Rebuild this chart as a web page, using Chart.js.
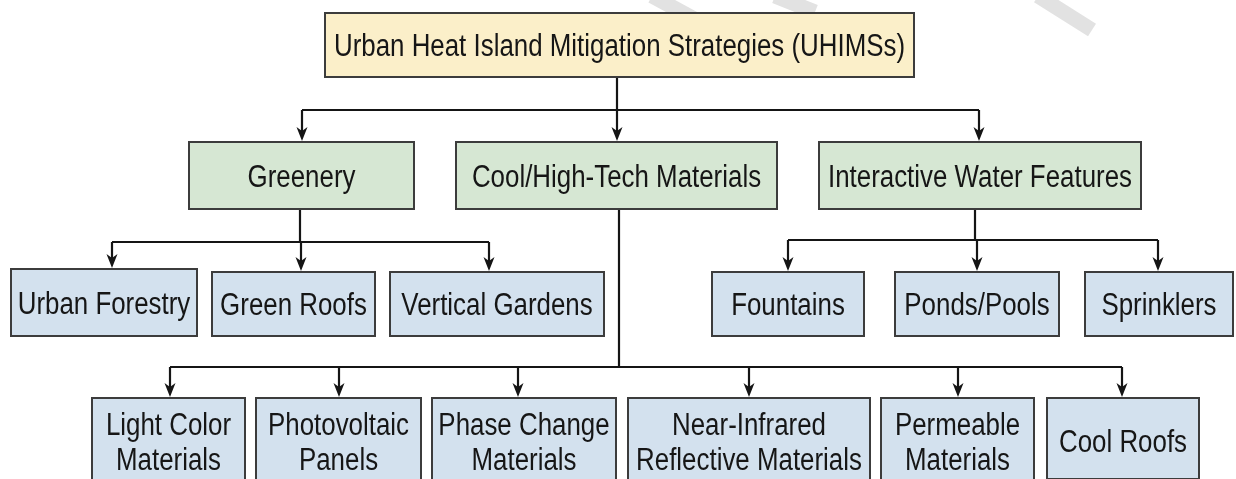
<!DOCTYPE html>
<html>
<head>
<meta charset="utf-8">
<script src="https://cdn.jsdelivr.net/npm/chart.js@4.4.1/dist/chart.umd.min.js"></script>
<style>
  html, body { margin: 0; padding: 0; background: #fff; }
  #wrap { width: 1236px; height: 479px; }
</style>
</head>
<body>
<div id="wrap"><canvas id="treeChart" width="1236" height="479"></canvas></div>
<script>
// node labels, "\n" splits a label on two lines
const nodeLabels = [
  'Urban Heat Island Mitigation Strategies (UHIMSs)',
  'Greenery', 'Cool/High-Tech Materials', 'Interactive Water Features',
  'Urban Forestry', 'Green Roofs', 'Vertical Gardens',
  'Fountains', 'Ponds/Pools', 'Sprinklers',
  'Light Color\nMaterials', 'Photovoltaic\nPanels', 'Phase Change\nMaterials',
  'Near-Infrared\nReflective Materials', 'Permeable\nMaterials', 'Cool Roofs'
];
const nodeLevel  = [0, 1, 1, 1, 2, 2, 2, 2, 2, 2, 3, 3, 3, 3, 3, 3];
const nodeParent = [-1, 0, 0, 0, 1, 1, 1, 3, 3, 3, 2, 2, 2, 2, 2, 2];

// box extents on the diagram axes (x 0..1236, y 0..479 from the top)
const boxLeft   = [325, 189, 456, 819, 11, 212, 390, 712, 895, 1085, 92, 256, 432, 628, 881, 1047];
const boxRight  = [914, 414, 777, 1141, 197, 375, 604, 864, 1059, 1233, 245, 421, 616, 870, 1034, 1199];
const boxTop    = [13, 142, 142, 142, 269, 272, 272, 272, 272, 272, 398, 398, 398, 398, 398, 398];
const boxBottom = [77, 209, 209, 209, 336, 336, 336, 336, 336, 336, 485, 485, 485, 485, 485, 479];

// x where the arrow enters each child box
const arrowX = [null, 302, 617, 979, 112, 301, 489, 788, 977, 1158, 170, 339, 518, 749, 958, 1122];

// connectors: parent node, x of its stem, y of the horizontal bus
const busParent = [0, 1, 2, 3];
const busStemX  = [617, 300, 619, 975];
const busY      = [110, 242, 367, 240];

// faint watermark strokes along the top edge (x1, y1, x2, y2)
const wmX1 = [652, 775, 1038];
const wmY1 = [-4, -4, -4];
const wmX2 = [700, 815, 1092];
const wmY2 = [22, 12, 30];

const levelFill = ['#fbefc9', '#d6e7d3', '#d3e1ee', '#d3e1ee'];

const treePlugin = {
  id: 'tree',
  beforeDatasetsDraw(chart) {
    const ctx = chart.ctx;
    const sx = chart.scales.x, sy = chart.scales.y;
    ctx.save();
    ctx.strokeStyle = '#e2e2e2';
    ctx.lineWidth = 15;
    for (let i = 0; i < wmX1.length; i++) {
      ctx.beginPath();
      ctx.moveTo(sx.getPixelForValue(wmX1[i]), sy.getPixelForValue(wmY1[i]));
      ctx.lineTo(sx.getPixelForValue(wmX2[i]), sy.getPixelForValue(wmY2[i]));
      ctx.stroke();
    }
    ctx.restore();
  },
  afterDatasetsDraw(chart) {
    const ctx = chart.ctx;
    const sx = chart.scales.x, sy = chart.scales.y;
    const px = v => sx.getPixelForValue(v);
    const py = v => sy.getPixelForValue(v);

    ctx.save();
    // connectors
    ctx.strokeStyle = '#151515';
    ctx.fillStyle = '#151515';
    ctx.lineWidth = 2.2;
    busParent.forEach((p, b) => {
      const kids = [];
      nodeParent.forEach((par, i) => { if (par === p) kids.push(i); });
      const xs = kids.map(k => arrowX[k]).concat([busStemX[b]]);
      const y = py(busY[b]);
      ctx.beginPath();
      ctx.moveTo(px(busStemX[b]), py(boxBottom[p]));
      ctx.lineTo(px(busStemX[b]), y);
      ctx.moveTo(px(Math.min(...xs)), y);
      ctx.lineTo(px(Math.max(...xs)), y);
      ctx.stroke();
      kids.forEach(k => {
        const x = px(arrowX[k]);
        const tip = py(boxTop[k]) - 1;
        ctx.beginPath();
        ctx.moveTo(x, y);
        ctx.lineTo(x, tip - 8);
        ctx.stroke();
        ctx.beginPath();
        ctx.moveTo(x, tip);
        ctx.lineTo(x - 5.5, tip - 14);
        ctx.lineTo(x, tip - 10);
        ctx.lineTo(x + 5.5, tip - 14);
        ctx.closePath();
        ctx.fill();
      });
    });

    // boxes and labels
    nodeLabels.forEach((label, i) => {
      const l = px(boxLeft[i]), r = px(boxRight[i]);
      const t = py(boxTop[i]), btm = py(boxBottom[i]);
      ctx.fillStyle = levelFill[nodeLevel[i]];
      ctx.fillRect(l, t, r - l, btm - t);
      ctx.strokeStyle = '#3c3c3c';
      ctx.lineWidth = 2;
      ctx.strokeRect(l, t, r - l, btm - t);

      const lines = label.split('\n');
      const cx = (l + r) / 2;
      const cy = lines.length > 1 ? py(441.5) : (i === 15 ? py(441) : (t + btm) / 2);
      ctx.fillStyle = '#161616';
      ctx.font = "31px 'Liberation Sans', Arial, sans-serif";
      ctx.textAlign = 'center';
      ctx.textBaseline = 'alphabetic';
      lines.forEach((line, j) => {
        const off = (j - (lines.length - 1) / 2) * 35;
        ctx.save();
        ctx.translate(cx, cy + off + 11);
        ctx.scale(0.835, 1);
        ctx.fillText(line, 0, 0);
        ctx.restore();
      });
    });
    ctx.restore();
  }
};

const ctx = document.getElementById('treeChart').getContext('2d');
new Chart(ctx, {
  type: 'scatter',
  data: {
    datasets: [{
      label: 'nodes',
      data: nodeLabels.map((n, i) => ({
        x: (boxLeft[i] + boxRight[i]) / 2,
        y: (boxTop[i] + boxBottom[i]) / 2
      })),
      pointRadius: 0
    }]
  },
  options: {
    responsive: false,
    animation: false,
    events: [],
    layout: { padding: 0 },
    scales: {
      x: { type: 'linear', min: 0, max: 1236, display: false },
      y: { type: 'linear', min: 0, max: 479, reverse: true, display: false }
    },
    plugins: {
      legend: { display: false },
      tooltip: { enabled: false },
      title: { display: false }
    }
  },
  plugins: [treePlugin]
});
</script>
</body>
</html>
